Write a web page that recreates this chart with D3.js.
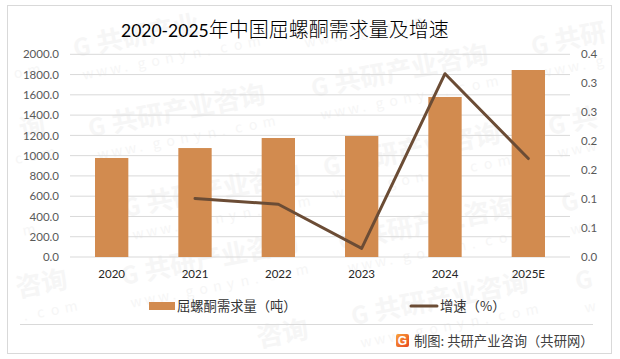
<!DOCTYPE html>
<html>
<head>
<meta charset="utf-8">
<script src="https://cdn.jsdelivr.net/npm/d3@7"></script>
<style>
  html, body { margin: 0; padding: 0; background: #fff; }
  svg { display: block; }
  .cjk { font-family: "Noto Sans CJK SC", sans-serif; }
  .axis text { font-family: Lato, "Liberation Sans", sans-serif; font-size: 11.5px; }
</style>
</head>
<body>
<div id="chart"></div>
<script>
const YEARS = ['2020', '2021', '2022', '2023', '2024', '2025E'];
const DEMAND = [977, 1075, 1174, 1194, 1579, 1845];
const GROWTH = [null, 0.101, 0.091, 0.015, 0.3165, 0.17];

const LEFT_TICKS = [0, 200, 400, 600, 800, 1000, 1200, 1400, 1600, 1800, 2000];
const RIGHT_TICKS = [0, 0.05, 0.1, 0.15, 0.2, 0.25, 0.3, 0.35];
const RIGHT_LABELS = ['0.0', '0.1', '0.1', '0.2', '0.2', '0.3', '0.3', '0.4'];

const TITLE_NUM = '2020-2025';
const TITLE_CJK = '年中国屈螺酮需求量及增速';
const BAR_NAME = '屈螺酮需求量（吨）';
const LINE_NAME = '增速（%）';
const SOURCE = '制图: 共研产业咨询（共研网）';

// watermark anchors, left end of each stamp
const STAMPS = [
  [75, 57], [90, 137], [297, 25], [313, 97], [533, 55], [550, 135],
  [-145, 85], [-130, 168], [125, 217], [340, 250], [325, 176], [563, 212],
  [-150, 245], [123, 285], [-108, 322], [353, 325], [577, 290], [133, 372]
];
const STAMP_NAME = ['共', '研', '产', '业', '咨', '询'];
const STAMP_URL = ['w', 'w', 'w', '.', 'g', 'o', 'n', 'y', 'n', '.', 'c', 'o', 'm'];

const BAR_COLOR = '#D28B4F';
const LINE_COLOR = '#6B4C35';
const GRID_COLOR = '#D9D9D9';
const STAMP_COLOR = '#F6F6F6';

const w = 620, h = 359;
const m = { top: 54.3, right: 50, bottom: 102, left: 70 };

const svg = d3.select('#chart').append('svg')
  .attr('width', w).attr('height', h)
  .attr('viewBox', `0 0 ${w} ${h}`);

const x = d3.scaleBand()
  .domain(YEARS)
  .range([m.left, w - m.right])
  .paddingInner(0.6)
  .paddingOuter(0.3);

const y = d3.scaleLinear()
  .domain([0, 2000])
  .range([h - m.bottom, m.top]);

const y2 = d3.scaleLinear()
  .domain([0, 0.35])
  .range([h - m.bottom, m.top]);

svg.append('rect')
  .attr('x', 7.5).attr('y', 5.5)
  .attr('width', 604).attr('height', 348)
  .attr('fill', '#fff')
  .attr('stroke', GRID_COLOR)
  .attr('stroke-width', 1);

// watermark, one glyph at a time so anything past the frame is just left out
const ANGLE = -11 * Math.PI / 180;
const glyphs = [];
STAMPS.forEach(s => {
  const put = (text, dx, dy, size, big) => {
    const gx = s[0] + dx * Math.cos(ANGLE) - dy * Math.sin(ANGLE);
    const gy = s[1] + dx * Math.sin(ANGLE) + dy * Math.cos(ANGLE);
    if (gx > 12 && gx < 612 - size && gy > 8 + size && gy < 350) {
      glyphs.push({ text, gx, gy, size, big });
    }
  };
  put('G', 0, 0, 24, true);
  STAMP_NAME.forEach((c, i) => put(c, 24 + i * 26, 0, 26, true));
  STAMP_URL.forEach((c, i) => put(c, 4 + i * 14, 24, 14, false));
});

svg.append('g')
  .selectAll('text')
  .data(glyphs)
  .join('text')
  .attr('transform', d => `translate(${d.gx},${d.gy}) rotate(-11)`)
  .attr('font-family', '"Noto Sans CJK SC", sans-serif')
  .attr('font-weight', d => d.big ? 700 : 400)
  .attr('font-size', d => d.size)
  .attr('fill', STAMP_COLOR)
  .text(d => d.text);

// gridlines
svg.append('g')
  .selectAll('line')
  .data(LEFT_TICKS)
  .join('line')
  .attr('x1', m.left).attr('x2', w - m.right)
  .attr('y1', d => y(d)).attr('y2', d => y(d))
  .attr('stroke', GRID_COLOR)
  .attr('stroke-width', 1);

// bars
svg.append('g')
  .selectAll('rect')
  .data(YEARS)
  .join('rect')
  .attr('x', d => x(d))
  .attr('y', (d, i) => y(DEMAND[i]))
  .attr('width', x.bandwidth())
  .attr('height', (d, i) => y(0) - y(DEMAND[i]))
  .attr('fill', BAR_COLOR);

// line
const line = d3.line()
  .defined(d => d.v !== null)
  .x(d => x(d.k) + x.bandwidth() / 2)
  .y(d => y2(d.v));

svg.append('path')
  .datum(YEARS.map((k, i) => ({ k, v: GROWTH[i] })))
  .attr('fill', 'none')
  .attr('stroke', LINE_COLOR)
  .attr('stroke-width', 3)
  .attr('stroke-linejoin', 'round')
  .attr('stroke-linecap', 'round')
  .attr('d', line);

// axes
const axisBottom = svg.append('g')
  .attr('class', 'axis')
  .attr('transform', `translate(0,${y(0)})`)
  .call(d3.axisBottom(x).tickSize(0).tickPadding(13));
axisBottom.select('.domain').remove();
axisBottom.selectAll('text').attr('fill', '#262626');

const axisLeft = svg.append('g')
  .attr('class', 'axis')
  .attr('transform', `translate(${m.left},0)`)
  .call(d3.axisLeft(y).tickValues(LEFT_TICKS).tickSize(0).tickPadding(11)
    .tickFormat(d3.format('.1f')));
axisLeft.select('.domain').remove();
axisLeft.selectAll('text').attr('fill', '#595959');

const axisRight = svg.append('g')
  .attr('class', 'axis')
  .attr('transform', `translate(${w - m.right},0)`)
  .call(d3.axisRight(y2).tickValues(RIGHT_TICKS).tickSize(0).tickPadding(11)
    .tickFormat((d, i) => RIGHT_LABELS[i]));
axisRight.select('.domain').remove();
axisRight.selectAll('text').attr('fill', '#595959');

// title
const title = svg.append('text')
  .attr('x', 121).attr('y', 37)
  .attr('fill', '#000');
title.append('tspan')
  .attr('font-family', 'Lato, sans-serif')
  .attr('font-size', 17.5)
  .text(TITLE_NUM);
title.append('tspan')
  .attr('class', 'cjk')
  .attr('font-size', 20)
  .attr('font-weight', 300)
  .text(TITLE_CJK);

// legend
svg.append('rect')
  .attr('x', 149).attr('y', 302)
  .attr('width', 26).attr('height', 8)
  .attr('fill', BAR_COLOR);

svg.append('text')
  .attr('class', 'cjk')
  .attr('x', 177).attr('y', 311)
  .attr('font-size', 13.3)
  .attr('fill', '#333')
  .text(BAR_NAME);

svg.append('line')
  .attr('x1', 411).attr('x2', 437)
  .attr('y1', 306).attr('y2', 306)
  .attr('stroke', LINE_COLOR)
  .attr('stroke-width', 3)
  .attr('stroke-linecap', 'round');

svg.append('text')
  .attr('class', 'cjk')
  .attr('x', 440).attr('y', 311)
  .attr('font-size', 13.3)
  .attr('fill', '#333')
  .text(LINE_NAME);

// footer
svg.append('line')
  .attr('x1', 20).attr('x2', 593)
  .attr('y1', 324.5).attr('y2', 324.5)
  .attr('stroke', GRID_COLOR);

const grad = svg.append('defs').append('linearGradient')
  .attr('id', 'logoFill')
  .attr('x1', 0).attr('y1', 0).attr('x2', 1).attr('y2', 1);
grad.append('stop').attr('offset', 0).attr('stop-color', '#F9A23B');
grad.append('stop').attr('offset', 1).attr('stop-color', '#E8471F');

svg.append('rect')
  .attr('x', 396).attr('y', 334)
  .attr('width', 13).attr('height', 13)
  .attr('rx', 2)
  .attr('fill', 'url(#logoFill)');

svg.append('text')
  .attr('x', 402.5).attr('y', 345)
  .attr('text-anchor', 'middle')
  .attr('font-family', '"Liberation Sans", sans-serif')
  .attr('font-weight', 700)
  .attr('font-size', 12)
  .attr('fill', '#fff')
  .text('G');

svg.append('text')
  .attr('class', 'cjk')
  .attr('x', 414).attr('y', 346)
  .attr('font-size', 13.3)
  .attr('fill', '#404040')
  .text(SOURCE);
</script>
</body>
</html>
